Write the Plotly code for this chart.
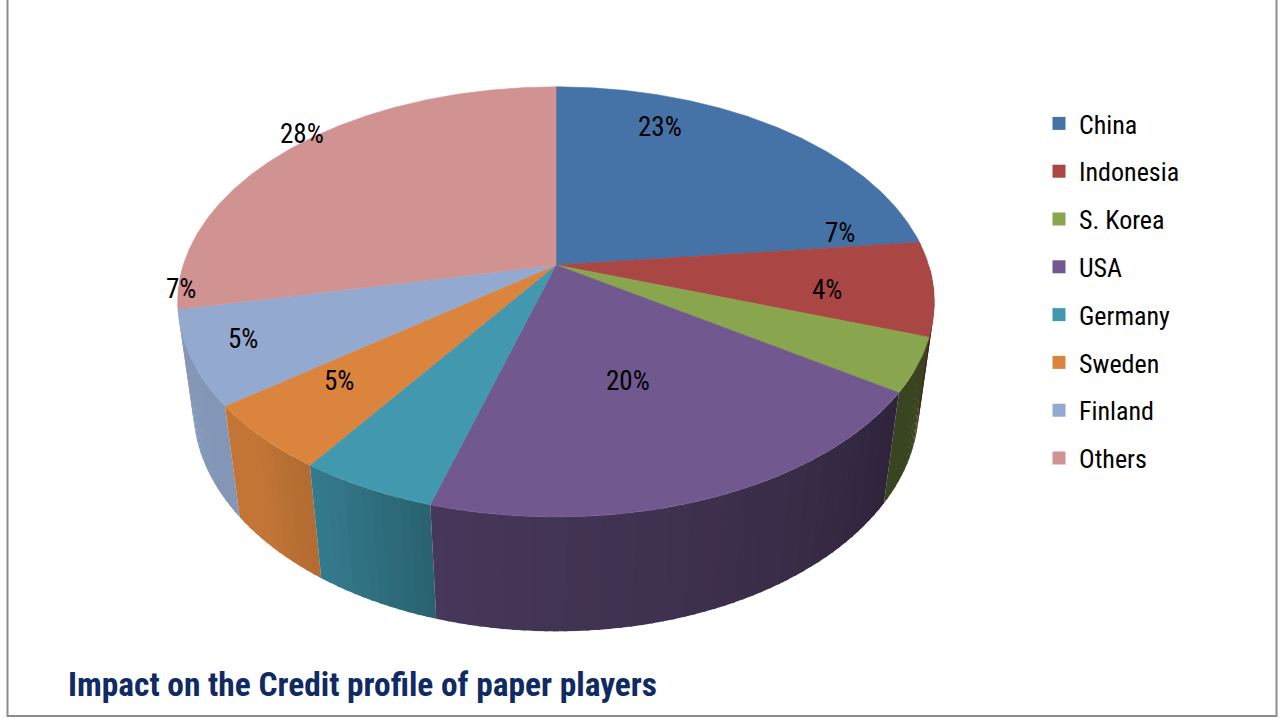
import numpy as np
import plotly.graph_objects as go

# ---------------- data ----------------
CATEGORIES = ["China", "Indonesia", "S. Korea", "USA", "Germany", "Sweden", "Finland", "Others"]
SHARES = [23, 7, 4, 20, 5, 5, 7, 28]
LABEL_TEXT = [f"{v}%" for v in SHARES]
COLORS = ["#4572A7", "#AA4643", "#89A54E", "#71588F", "#4198AF", "#DB843D", "#93A9CF", "#D19392"]
TITLE = "Impact on the Credit profile of paper players"

# ---------------- layout / style ----------------
W, HGT = 1281, 718
CX, CY = 556, 265          # projected pie centre (pixels)
FOCAL = 1800.0
DIST = 4.83
ELEV = np.arcsin(0.56)
THICK = 0.356
LABEL_POS = [(660, 127), (840, 233), (827, 290), (628, 381), (339, 381), (243, 339), (181, 289), (302, 134)]
FONT = "Liberation Sans Narrow, Noto Sans Condensed, Roboto Condensed, DejaVu Sans Condensed, sans-serif"


def project(phi_deg, z):
    p = np.radians(np.asarray(phi_deg, dtype=float))
    x, y = np.cos(p), np.sin(p)
    s, c = np.sin(ELEV), np.cos(ELEV)
    up = y * s + z * c
    depth = DIST + y * c - z * s
    return CX + FOCAL * x / depth, CY - FOCAL * up / depth


def shade(hexcol, f):
    h = hexcol.lstrip("#")
    r, g, b = (int(h[i:i + 2], 16) for i in (0, 2, 4))
    return "rgb(%d,%d,%d)" % (r * f, g * f, b * f)


def side_factor(phi):
    return float(np.interp(phi, [-180, -135, -120, -105, -60, -35, 0],
                           [0.90, 0.89, 0.78, 0.63, 0.52, 0.42, 0.42]))


total = float(sum(SHARES))
cum = np.concatenate([[0], np.cumsum(SHARES)]) / total
starts = 90 - 360 * cum[:-1]
ends = 90 - 360 * cum[1:]

fig = go.Figure()

# ---- side walls (front half only), painted far-to-near ----
segments = []
for i in range(len(SHARES)):
    a, b = ends[i], starts[i]
    for off in (0, -360):
        lo, hi = max(a + off, -180), min(b + off, 0)
        if hi <= lo:
            continue
        n = max(1, int(np.ceil((hi - lo) / 1.5)))
        edges = np.linspace(lo, hi, n + 1)
        for k in range(n):
            segments.append((edges[k], edges[k + 1], lo, hi, i))
segments.sort(key=lambda t: -abs((t[0] + t[1]) / 2 + 90))
for lo, hi, slo, shi, i in segments:
    mid = (lo + hi) / 2
    # slight overlap toward the back so no seams show (stay inside the slice)
    if mid < -90:
        lo2, hi2 = lo, min(hi + 0.4, shi)
    else:
        lo2, hi2 = max(lo - 0.4, slo), hi
    ph = np.linspace(lo2, hi2, 4)
    xt, yt = project(ph, 0.0)
    xb, yb = project(ph[::-1], -THICK)
    col = shade(COLORS[i], side_factor(mid))
    fig.add_trace(go.Scatter(
        x=np.concatenate([xt, xb]), y=np.concatenate([yt, yb]),
        mode="lines", fill="toself", fillcolor=col,
        line=dict(color=col, width=0), hoverinfo="skip", showlegend=False))

# ---- top faces ----
for i in range(len(SHARES)):
    ph = np.linspace(starts[i], ends[i], max(8, int(abs(starts[i] - ends[i]) * 2)))
    xr, yr = project(ph, 0.0)
    fig.add_trace(go.Scatter(
        x=np.concatenate([[CX], xr, [CX]]), y=np.concatenate([[CY], yr, [CY]]),
        mode="lines", fill="toself", fillcolor=COLORS[i],
        line=dict(color=COLORS[i], width=0.6), hoverinfo="skip", showlegend=False,
        name=CATEGORIES[i]))

# ---- legend entries ----
for i, cat in enumerate(CATEGORIES):
    fig.add_trace(go.Scatter(
        x=[None], y=[None], mode="markers", name=cat, legendgroup=cat,
        marker=dict(symbol="square", size=13, color=COLORS[i]), hoverinfo="skip"))

# ---- data labels ----
for (lx, ly), txt in zip(LABEL_POS, LABEL_TEXT):
    fig.add_annotation(x=lx, y=ly, xref="x", yref="y", text=txt, showarrow=False,
                       xanchor="center", yanchor="middle",
                       font=dict(family=FONT, size=27, color="#000000"))

# ---- title ----
fig.add_annotation(x=66, y=684, xref="x", yref="y", text=TITLE, showarrow=False,
                   xanchor="left", yanchor="middle",
                   font=dict(family=FONT, size=33.4, color="#102A63", weight="bold"))

# ---- frame ----
fig.add_shape(type="rect", xref="x", yref="y", x0=7.5, x1=1276.5, y0=-10, y1=716,
              line=dict(color="#8C8C8C", width=2), fillcolor="rgba(0,0,0,0)", layer="above")

fig.update_layout(
    width=W, height=HGT,
    margin=dict(l=0, r=0, t=0, b=0),
    paper_bgcolor="white", plot_bgcolor="white",
    xaxis=dict(range=[0, W], visible=False, fixedrange=True),
    yaxis=dict(range=[HGT, 0], visible=False, fixedrange=True),
    showlegend=True,
    legend=dict(x=1039 / W, y=1 - 100 / HGT, xanchor="left", yanchor="top",
                font=dict(family=FONT, size=26, color="#000000"),
                tracegroupgap=11, bgcolor="rgba(0,0,0,0)", itemwidth=30),
)

fig.write_html("out.html", config={"displayModeBar": False},
               post_script="document.body.style.margin='0px';document.body.style.padding='0px';")
